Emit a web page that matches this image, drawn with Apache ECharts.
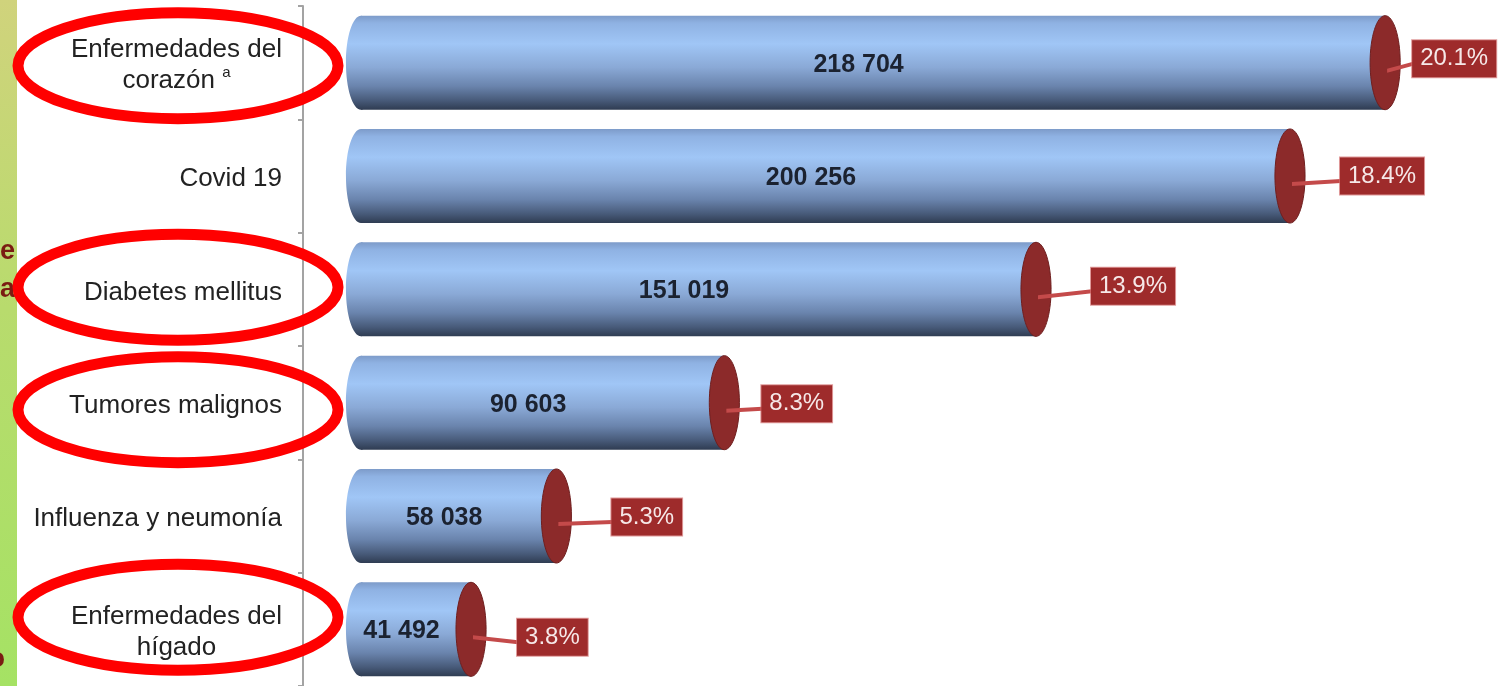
<!DOCTYPE html>
<html>
<head>
<meta charset="utf-8">
<script src="https://cdn.jsdelivr.net/npm/echarts@6/dist/echarts.min.js"></script>
<style>
  html, body { margin: 0; padding: 0; background: #ffffff; }
  #chart { width: 1506px; height: 686px; }
</style>
</head>
<body>
<div id="chart"></div>
<script>
// Principales causas de muerte: defunciones y porcentaje del total
const causes = ['Enfermedades del\ncorazón', 'Covid 19', 'Diabetes mellitus', 'Tumores malignos', 'Influenza y neumonía', 'Enfermedades del\nhígado'];
const footnotes = ['a', '', '', '', '', ''];
const deaths = [218704, 200256, 151019, 90603, 58038, 41492];
const shares = [20.1, 18.4, 13.9, 8.3, 5.3, 3.8];
// causes highlighted with a hand-drawn style ring
const circled = ['Enfermedades del\ncorazón', 'Diabetes mellitus', 'Tumores malignos', 'Enfermedades del\nhígado'];

// callout placement relative to the cylinder end: [dx, dy]
const calloutNudge = [[27, -4], [50, 0], [55, -3], [37, 1], [55, 1], [46, 8]];
// ring vertical nudges relative to the category centre
const ringNudge = [3, -2, 7, -12];

const FONT = '"Liberation Sans", Arial, sans-serif';
const DEPTH = 104;          // perspective offset of the cylinder base
const fmtThousands = v => String(v).replace(/\B(?=(\d{3})+(?!\d))/g, ' ');

const chart = echarts.init(document.getElementById('chart'), null, { renderer: 'canvas' });

const bodyGradient = () => new echarts.graphic.LinearGradient(0, 0, 0, 1, [
  { offset: 0, color: '#7d9bc9' },
  { offset: 0.08, color: '#8fb2e3' },
  { offset: 0.3, color: '#a0c6f6' },
  { offset: 0.55, color: '#8aa9d6' },
  { offset: 0.75, color: '#6a84ad' },
  { offset: 0.9, color: '#485b7a' },
  { offset: 1, color: '#2f3c52' }
]);

function renderCylinder(params, api) {
  const idx = api.value(1);
  const val = api.value(0);
  const end = api.coord([val, idx]);
  const base = api.coord([0, idx]);
  const band = api.size([0, 1])[1];
  const cy = end[1];
  const ry = band * 0.415;
  const rx = ry * 0.32;
  const x0 = base[0] + DEPTH;
  const x1 = end[0];
  const nudge = calloutNudge[params.dataIndex] || [45, 0];
  const boxLeft = x1 + nudge[0];
  const boxCy = cy + nudge[1];
  return {
    type: 'group',
    children: [
      { type: 'ellipse', shape: { cx: x0, cy: cy, rx: rx, ry: ry }, style: { fill: bodyGradient() } },
      { type: 'rect', shape: { x: x0, y: cy - ry, width: x1 - x0, height: ry * 2 }, style: { fill: bodyGradient() } },
      { type: 'ellipse', shape: { cx: x1, cy: cy, rx: rx, ry: ry },
        style: { fill: '#8c2a2a', stroke: '#6f1f1f', lineWidth: 1 } },
      { type: 'text', style: {
          text: fmtThousands(val), x: (x0 - 29 + x1) / 2, y: cy + 2,
          align: 'center', verticalAlign: 'middle',
          font: 'bold 25px ' + FONT, fill: '#1b2230' } },
      { type: 'polygon', shape: { points: [[x1 + 2, cy + 6], [x1 + 2, cy + 10], [boxLeft + 1, boxCy + 7], [boxLeft + 1, boxCy + 3]] },
        style: { fill: '#c44a4a' } },
      { type: 'text', style: {
          text: shares[params.dataIndex].toFixed(1) + '%', x: boxLeft, y: boxCy,
          align: 'left', verticalAlign: 'middle',
          font: '24px ' + FONT, fill: '#f6e8e8',
          backgroundColor: '#9e2b2b', borderColor: 'rgba(210,110,110,0.7)', borderWidth: 1,
          padding: [7, 8, 6, 8] } }
    ]
  };
}

function categoryLabel(value, index) {
  const lines = value.split('\n');
  const note = footnotes[index];
  return lines.map((ln, i) => {
    let s = '{n|' + ln + (i === lines.length - 1 && note ? ' ' : '') + '}';
    if (i === lines.length - 1 && note) s += '{sup|' + note + '}';
    return s;
  }).join('\n');
}

chart.setOption({
  animation: false,
  backgroundColor: '#ffffff',
  grid: { left: 257, right: 11, top: 6, height: 684, containLabel: false },
  xAxis: { type: 'value', min: 0, max: 240000, show: false },
  yAxis: {
    type: 'category', data: causes, inverse: true, offset: -46,
    axisLine: { show: true, lineStyle: { color: '#a3a3a3', width: 2 } },
    axisTick: { show: true, length: 5, lineStyle: { color: '#a3a3a3', width: 2 } },
    axisLabel: {
      margin: 21, formatter: categoryLabel, color: '#222222', fontFamily: FONT,
      padding: [6, 0, 0, 0],
      rich: {
        n: { fontSize: 26, fontFamily: FONT, color: '#222222', align: 'center', lineHeight: 31 },
        sup: { fontSize: 15, fontFamily: FONT, color: '#222222', align: 'center', verticalAlign: 'top', lineHeight: 15 }
      }
    },
    splitLine: { show: false }
  },
  series: [{
    type: 'custom',
    renderItem: renderCylinder,
    encode: { x: 0, y: 1 },
    data: deaths.map((v, i) => [v, i]),
    z: 3
  }]
});

// rings around highlighted causes, left strip of the slide
const labelCx = 178;
const rings = circled.map((name, k) => {
  const cy = chart.convertToPixel({ yAxisIndex: 0 }, name) + ringNudge[k];
  return {
    type: 'ellipse', z: 100,
    shape: { cx: labelCx, cy: cy, rx: 160, ry: 53 },
    style: { fill: 'none', stroke: '#ff0000', lineWidth: 11 }
  };
});

chart.setOption({
  graphic: [
    { type: 'rect', z: 90, shape: { x: 0, y: 0, width: 17, height: 686 },
      style: { fill: new echarts.graphic.LinearGradient(0, 0, 0, 1, [
        { offset: 0, color: '#d0d37c' },
        { offset: 0.45, color: '#b8db6d' },
        { offset: 1, color: '#a5e264' }
      ]) } },
    { type: 'text', z: 91, style: { text: 'e', x: 15, y: 252, align: 'right', verticalAlign: 'middle', font: 'bold 27px ' + FONT, fill: '#7a1c12' } },
    { type: 'text', z: 91, style: { text: 'a', x: 15, y: 290, align: 'right', verticalAlign: 'middle', font: 'bold 27px ' + FONT, fill: '#7a1c12' } },
    { type: 'text', z: 91, style: { text: 'o', x: 5, y: 660, align: 'right', verticalAlign: 'middle', font: 'bold 27px ' + FONT, fill: '#7a1c12' } }
  ].concat(rings)
});
</script>
</body>
</html>
